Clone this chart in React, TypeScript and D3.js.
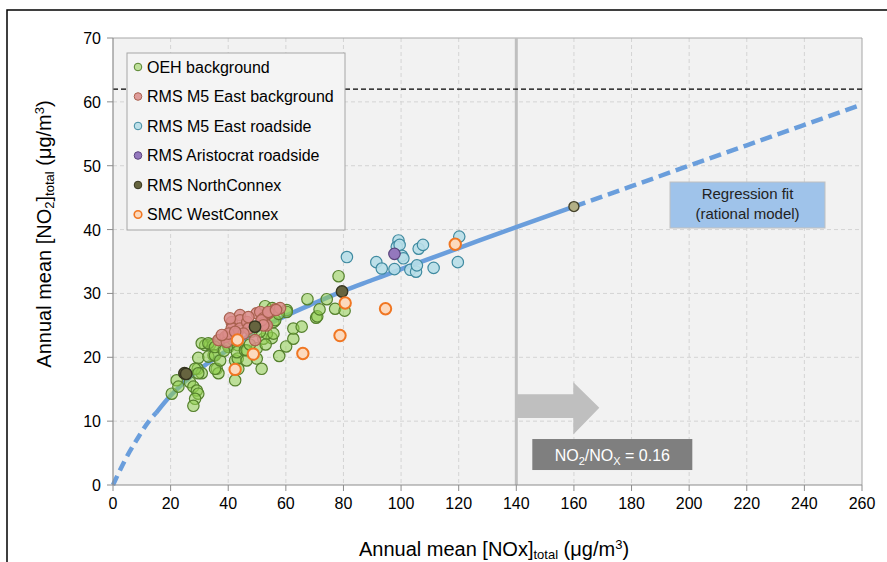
import React from "react";
import * as d3 from "d3";

// ---- data ----
const xTickValues = [0, 20, 40, 60, 80, 100, 120, 140, 160, 180, 200, 220, 240, 260];
const yTickValues = [0, 10, 20, 30, 40, 50, 60, 70];

const oehBackground = [
  [20.4, 14.3], [22.1, 16.4], [22.7, 15.4], [26.7, 16.1], [27.9, 15.4], [29.1, 14.8],
  [29.6, 14.3], [28.5, 13.5], [27.9, 12.4], [29.6, 19.9], [29.4, 18.2], [30.8, 17.5],
  [32.0, 21.9], [33.7, 22.0], [34.8, 21.9], [34.9, 20.3], [33.1, 20.1], [35.4, 20.3],
  [36.0, 18.2], [36.6, 17.5], [35.4, 18.2], [37.2, 19.5], [37.2, 22.7], [40.0, 21.9],
  [40.1, 21.6], [42.4, 16.4], [42.4, 19.5], [43.3, 21.9], [43.3, 19.8], [43.5, 18.2],
  [43.0, 20.8], [45.8, 21.1], [46.4, 19.5], [46.4, 21.1], [49.9, 21.4], [49.9, 19.8],
  [51.6, 18.2], [52.2, 22.9], [55.1, 23.0], [53.4, 23.7], [55.7, 23.7], [55.7, 25.5],
  [56.3, 25.8], [52.8, 28.0], [55.3, 27.7], [60.3, 27.4], [60.3, 27.1], [57.7, 20.2],
  [60.1, 21.7], [62.6, 22.9], [62.6, 24.5], [65.5, 24.8], [70.5, 26.2], [70.9, 26.4],
  [71.7, 27.5], [67.5, 29.1], [74.2, 29.1], [77.1, 27.6], [80.4, 27.3], [78.3, 32.7],
  [30.8, 22.2], [33.1, 22.2], [35.4, 21.6], [28.5, 18.2], [29.6, 17.5], [38.5, 21.0],
  [41.5, 22.8], [47.5, 22.0], [51.0, 24.0], [48.0, 24.0], [57.5, 26.8], [53.0, 22.0],
];

const rmsM5EastBackground = [
  [41.2, 25.5], [44.1, 26.6], [44.1, 25.8], [41.2, 24.5], [44.1, 24.5], [46.6, 25.5],
  [47.0, 24.5], [43.0, 23.7], [45.3, 23.7], [36.6, 22.7], [39.0, 23.2], [39.5, 22.4],
  [49.3, 22.7], [49.9, 26.9], [51.1, 27.1], [52.2, 26.1], [52.2, 25.3], [53.9, 26.9],
  [56.3, 27.5], [58.0, 27.7], [53.4, 25.0], [40.1, 23.7], [37.8, 23.5], [40.6, 26.1],
  [47.0, 26.3], [42.4, 24.0], [51.6, 25.8], [52.2, 25.0], [53.9, 27.1], [56.6, 27.4],
];

const rmsM5EastRoadside = [
  [81.2, 35.7], [91.4, 34.9], [93.3, 33.9], [99.1, 38.3], [98.5, 37.3], [99.5, 37.6],
  [100.3, 35.9], [100.8, 35.5], [97.7, 33.8], [103.2, 33.7], [105.2, 33.4], [105.5, 34.4],
  [106.1, 37.0], [107.6, 37.6], [111.3, 34.0], [120.2, 38.9], [119.7, 34.9],
];

const rmsAristocratRoadside = [[97.7, 36.2]];

const rmsNorthConnex = [[24.8, 17.5], [25.4, 17.4], [49.3, 24.8], [79.5, 30.3]];

const smcWestConnex = [
  [43.2, 22.7], [48.7, 20.5], [42.4, 18.1], [65.9, 20.6], [78.8, 23.4], [80.6, 28.5],
  [94.6, 27.6], [118.8, 37.7],
];

// regression fit (rational model)
const fitX = [0, 2.5, 5, 8, 12.5, 15, 20, 25, 30, 40, 50, 60, 70, 80, 90, 100, 120, 140, 160, 180, 200, 220, 240, 260];
const fitY = [0, 2.4, 4.6, 6.9, 10.0, 11.3, 14.0, 16.2, 18.1, 21.2, 24.2, 26.5, 28.5, 30.4, 32.1, 33.8, 37.1, 40.4, 43.6, 46.8, 50.0, 53.2, 56.4, 59.6];
const fitSolidFrom = 15;
const fitSolidTo = 160;
const limitValue = 62;
const thresholdNOx = 140;

const seriesNames = [
  "OEH background",
  "RMS M5 East background",
  "RMS M5 East roadside",
  "RMS Aristocrat roadside",
  "RMS NorthConnex",
  "SMC WestConnex",
];

const styles = [
  { fill: "rgba(146,208,80,0.55)", stroke: "#55812d", sw: 1.2 },
  { fill: "rgba(218,140,138,0.85)", stroke: "#a8614f", sw: 1.2 },
  { fill: "rgba(183,222,232,0.9)", stroke: "#3f8aa0", sw: 1.2 },
  { fill: "#9478bd", stroke: "#5b447d", sw: 1.2 },
  { fill: "#66643f", stroke: "#35341f", sw: 1.4 },
  { fill: "#fcd9bd", stroke: "#f07622", sw: 2 },
];

const seriesData = [
  oehBackground,
  rmsM5EastBackground,
  rmsM5EastRoadside,
  rmsAristocratRoadside,
  rmsNorthConnex,
  smcWestConnex,
];

const W = 887;
const H = 562;
const left = 113;
const right = 862;
const top = 38;
const bottom = 485;
const FONT = "'Liberation Sans', Arial, sans-serif";

export default function App() {
  const x = d3.scaleLinear().domain([0, 260]).range([left, right]);
  const y = d3.scaleLinear().domain([0, 70]).range([bottom, top]);

  const fitPts = fitX.map((v, i) => [v, fitY[i]] as [number, number]);
  const line = d3
    .line<[number, number]>()
    .x((d) => x(d[0]))
    .y((d) => y(d[1]))
    .curve(d3.curveMonotoneX);
  const startPart = fitPts.filter((d) => d[0] <= fitSolidFrom);
  const solidPart = fitPts.filter((d) => d[0] >= fitSolidFrom && d[0] <= fitSolidTo);
  const endPart = fitPts.filter((d) => d[0] >= fitSolidTo);

  // arrow and label boxes, anchored on the threshold line
  const ax = x(thresholdNOx);

  return (
    <svg
      width={W}
      height={H}
      style={{ position: "absolute", left: 0, top: 0, background: "#fff" }}
      fontFamily={FONT}
    >
      {/* outer frame */}
      <rect x={7} y={10} width={W + 20} height={H + 20} fill="#fff" stroke="#000" strokeWidth={1.5} />

      {/* plot area */}
      <rect x={left} y={top} width={right - left} height={bottom - top} fill="#f2f2f2" />

      {/* grid */}
      {xTickValues.slice(1, -1).map((t) => (
        <line key={"gx" + t} x1={x(t)} x2={x(t)} y1={top} y2={bottom} stroke="#d4d4d4" strokeDasharray="4,3" />
      ))}
      {yTickValues.slice(1, -1).map((t) => (
        <line key={"gy" + t} x1={left} x2={right} y1={y(t)} y2={y(t)} stroke="#d4d4d4" strokeDasharray="4,3" />
      ))}

      {/* plot border */}
      <line x1={left} x2={right} y1={top} y2={top} stroke="#a6a6a6" strokeWidth={1} />
      <line x1={right} x2={right} y1={top} y2={bottom} stroke="#a6a6a6" strokeWidth={1} />

      {/* threshold line at NOx = 140 */}
      <line x1={ax} x2={ax} y1={top} y2={bottom} stroke="#bfbfbf" strokeWidth={3} />

      {/* limit line */}
      <line x1={left} x2={right} y1={y(limitValue)} y2={y(limitValue)} stroke="#000" strokeWidth={1.3} strokeDasharray="5,3" />

      {/* arrow */}
      <path
        d={`M${ax},${y(14.2)} L${ax + 57},${y(14.2)} L${ax + 57},${y(16.1)} L${ax + 83},${y(12.1)} L${ax + 57},${y(7.9)} L${ax + 57},${y(10.5)} L${ax},${y(10.5)} Z`}
        fill="#bfbfbf"
      />

      {/* NO2/NOx box */}
      <rect x={ax + 16} y={y(7.2)} width={160} height={31} fill="#7f7f7f" />
      <text x={ax + 96} y={y(7.2) + 22} fill="#fff" fontSize={16} textAnchor="middle">
        NO<tspan fontSize={11} dy={4}>2</tspan>
        <tspan dy={-4}>/NO</tspan>
        <tspan fontSize={11} dy={4}>X</tspan>
        <tspan dy={-4}> = 0.16</tspan>
      </text>

      {/* regression fit curve */}
      <path d={line(startPart) || ""} fill="none" stroke="#6a9edc" strokeWidth={4.5} strokeDasharray="10,6" />
      <path d={line(solidPart) || ""} fill="none" stroke="#6a9edc" strokeWidth={4.5} />
      <path d={line(endPart) || ""} fill="none" stroke="#6a9edc" strokeWidth={4.5} strokeDasharray="12,6" />

      {/* scatter points */}
      {seriesData.map((pts, si) => (
        <g key={"s" + si}>
          {pts.map((p, i) => (
            <circle
              key={i}
              cx={x(p[0])}
              cy={y(p[1])}
              r={5.7}
              fill={styles[si].fill}
              stroke={styles[si].stroke}
              strokeWidth={styles[si].sw}
            />
          ))}
        </g>
      ))}

      {/* end of fitted range marker */}
      <circle cx={x(fitSolidTo)} cy={y(43.6)} r={5} fill="#b3b086" stroke="#45432c" strokeWidth={1.4} />

      {/* regression label */}
      <rect x={670} y={182} width={155} height={46} fill="#9fc3ea" stroke="#c0c0c0" strokeWidth={1} />
      <text x={747.5} y={199} fontSize={15} textAnchor="middle" fill="#222">Regression fit</text>
      <text x={747.5} y={219} fontSize={15} textAnchor="middle" fill="#222">(rational model)</text>

      {/* axes */}
      <line x1={left} x2={left} y1={top} y2={bottom} stroke="#8c8c8c" strokeWidth={1.2} />
      <line x1={left} x2={right} y1={bottom} y2={bottom} stroke="#8c8c8c" strokeWidth={1.2} />
      {yTickValues.map((t) => (
        <g key={"yt" + t}>
          <line x1={left - 6} x2={left} y1={y(t)} y2={y(t)} stroke="#8c8c8c" />
          <text x={left - 12} y={y(t) + 6} fontSize={16} textAnchor="end" fill="#000">{t}</text>
        </g>
      ))}
      {xTickValues.map((t) => (
        <g key={"xt" + t}>
          <line x1={x(t)} x2={x(t)} y1={bottom} y2={bottom + 6} stroke="#8c8c8c" />
          <text x={x(t)} y={bottom + 24} fontSize={16} textAnchor="middle" fill="#000">{t}</text>
        </g>
      ))}

      {/* axis titles */}
      <text x={494} y={556} fontSize={20} textAnchor="middle" fill="#000">
        Annual mean [NOx]<tspan fontSize={13} dy={3}>total</tspan>
        <tspan dy={-3}> (μg/m</tspan>
        <tspan fontSize={13} dy={-7}>3</tspan>
        <tspan dy={7}>)</tspan>
      </text>
      <text
        transform={`translate(51,${234}) rotate(-90)`}
        fontSize={20}
        textAnchor="middle"
        fill="#000"
      >
        Annual mean [NO<tspan fontSize={13} dy={3}>2</tspan>
        <tspan dy={-3}>]</tspan>
        <tspan fontSize={13} dy={3}>total</tspan>
        <tspan dy={-3}> (μg/m</tspan>
        <tspan fontSize={13} dy={-7}>3</tspan>
        <tspan dy={7}>)</tspan>
      </text>

      {/* legend */}
      <rect x={127} y={53} width={218} height={177} fill="#f4f4f4" stroke="#a6a6a6" strokeWidth={1} />
      {seriesNames.map((name, i) => (
        <g key={"lg" + i} transform={`translate(138,${67 + i * 29.5})`}>
          <circle r={3.8} fill={styles[i].fill} stroke={styles[i].stroke} strokeWidth={i === 5 ? 1.6 : 1} />
          <text x={9} y={5.5} fontSize={16} fill="#000">{name}</text>
        </g>
      ))}
    </svg>
  );
}
